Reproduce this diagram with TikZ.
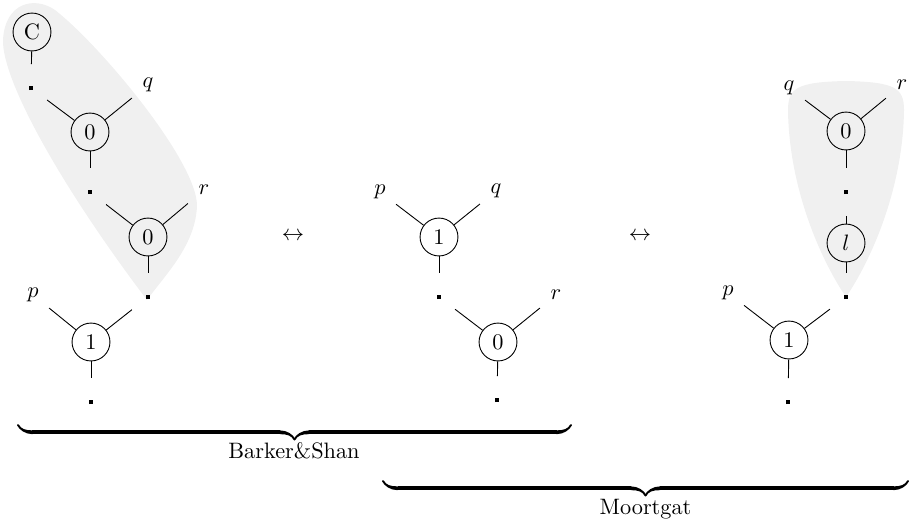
\documentclass[tikz,border=0pt]{standalone}
\usetikzlibrary{decorations.pathreplacing,calligraphy}
\newcommand\sqdot{\rule{1.8pt}{1.8pt}}
\begin{document}
\begin{tikzpicture}[x=0.4484pt,y=-0.4484pt,
  op/.style={circle,draw,minimum size=17pt,inner sep=0pt},
  pt/.style={rectangle,minimum width=14pt,minimum height=21pt,inner sep=0pt},
  shade/.style={fill=gray!12},
  groupbrace/.style={decorate,decoration={calligraphic brace,amplitude=6.5pt},line width=1.7pt},
  every path/.style={line width=0.4pt}]
\useasboundingbox (0,0) rectangle (910,522);

% shaded groupings
\fill[shade] (147,300) .. controls (165,275) and (196,245) .. (197,205)
  .. controls (196,160) and (100,45) .. (55,10)
  .. controls (35,-4) and (5,2) .. (3,40)
  .. controls (2,80) and (60,185) .. (147,300) -- cycle;
\fill[shade] (846,297) .. controls (870,262) and (903,190) .. (904,110)
  .. controls (904,88) and (895,82) .. (846,81)
  .. controls (797,82) and (788,88) .. (788,110)
  .. controls (789,190) and (822,262) .. (846,297) -- cycle;

% left tree
\node[op] (lc) at (32,32) {C};
\node[pt] (ld1) at (31,88) {\sqdot};
\node[op] (la) at (90,132) {0};
\node[pt] (lq) at (148,85) {$q$};
\node[pt] (ld2) at (90,192) {\sqdot};
\node[op] (lb) at (148,237) {0};
\node[pt] (lr) at (204,190) {$r$};
\node[pt] (ld3) at (148,297) {\sqdot};
\node[op] (lone) at (91,342) {1};
\node[pt] (lp) at (33,295) {$p$};
\node[pt] (ld4) at (91,402) {\sqdot};
\draw (lc) -- (ld1);
\draw (ld1) -- (la);
\draw (lq) -- (la);
\draw (la) -- (ld2);
\draw (ld2) -- (lb);
\draw (lr) -- (lb);
\draw (lb) -- (ld3);
\draw (lp) -- (lone);
\draw (ld3) -- (lone);
\draw (lone) -- (ld4);

% middle tree
\node[op] (mone) at (439,237) {1};
\node[pt] (mp) at (380,192) {$p$};
\node[pt] (mq) at (496,191) {$q$};
\node[pt] (md1) at (439,297) {\sqdot};
\node[op] (mzero) at (498,342) {0};
\node[pt] (mr) at (556,295) {$r$};
\node[pt] (md2) at (497,400) {\sqdot};
\draw (mp) -- (mone);
\draw (mq) -- (mone);
\draw (mone) -- (md1);
\draw (md1) -- (mzero);
\draw (mr) -- (mzero);
\draw (mzero) -- (md2);

% right tree
\node[op] (rzero) at (846,131) {0};
\node[pt] (rq) at (789,88) {$q$};
\node[pt] (rr) at (902,85) {$r$};
\node[pt] (rd1) at (846,192) {\sqdot};
\node[op] (rl) at (846,243) {$l$};
\node[pt] (rd2) at (846,297) {\sqdot};
\node[op] (rone) at (789,340) {1};
\node[pt] (rp) at (728,293) {$p$};
\node[pt] (rd3) at (788,402) {\sqdot};
\draw (rq) -- (rzero);
\draw (rr) -- (rzero);
\draw (rzero) -- (rd1);
\draw (rd1) -- (rl);
\draw (rl) -- (rd2);
\draw (rp) -- (rone);
\draw (rd2) -- (rone);
\draw (rone) -- (rd3);

% equivalences
\node (eqa) at (293,236) {$\leftrightarrow$};
\node (eqb) at (640,236) {$\leftrightarrow$};

% braces with their captions
\coordinate (bsl) at (18,425);
\coordinate (bsr) at (571,425);
\coordinate (mgl) at (383,481);
\coordinate (mgr) at (908,481);
\draw[groupbrace] (bsr) -- (bsl);
\draw[groupbrace] (mgr) -- (mgl);
\node[anchor=base,inner sep=0pt] (bs) at (294,458) {Barker\&Shan};
\node[anchor=base,inner sep=0pt] (mg) at (645.5,514) {Moortgat};
\end{tikzpicture}
\end{document}
